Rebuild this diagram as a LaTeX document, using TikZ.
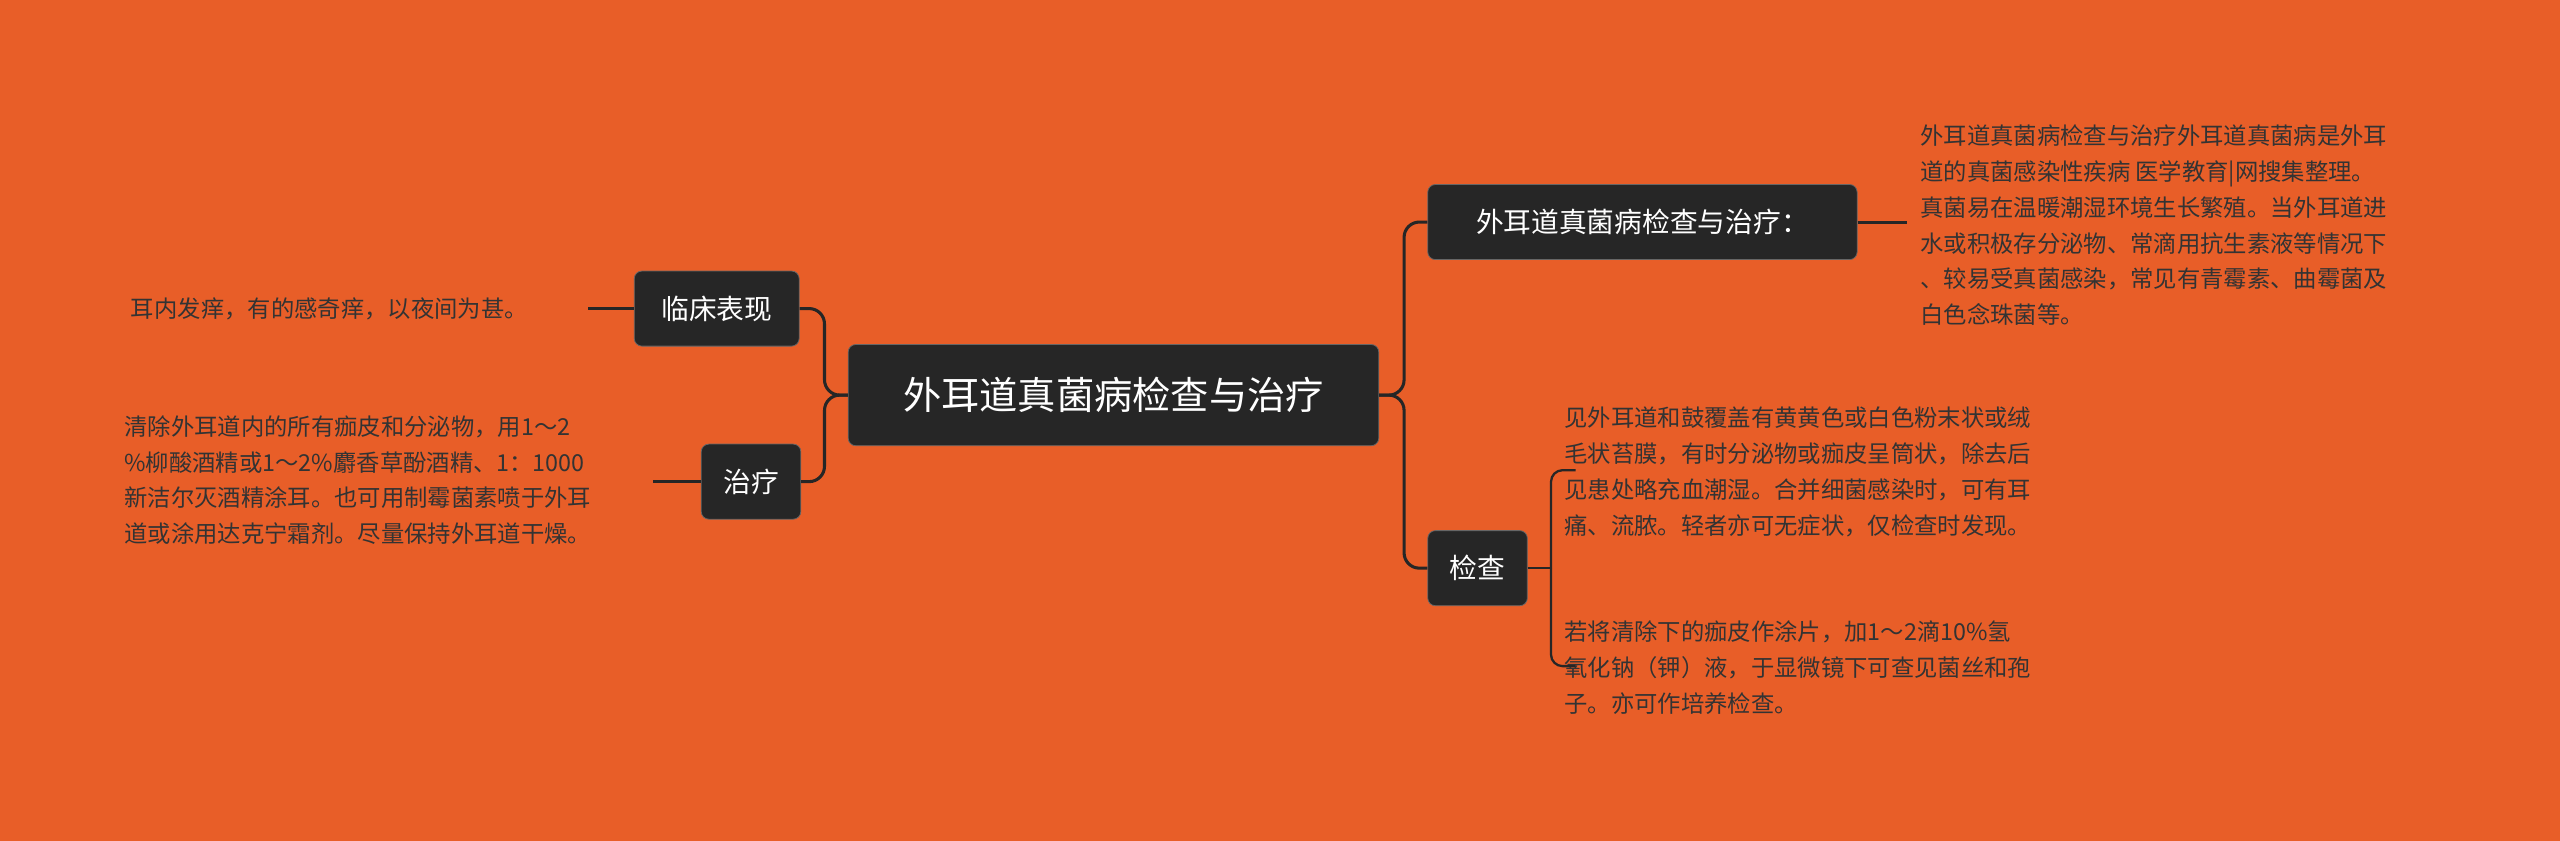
\documentclass[tikz,border=0pt]{standalone}
\usepackage{fontspec}
\setmainfont{Noto Sans CJK SC}
\begin{document}
\begin{tikzpicture}[x=0.3mm,y=-0.3mm,
 box/.style={fill=black!85,draw=black!60,rounded corners=4pt,text=white,inner sep=0pt,align=center},
 leaf/.style={text=black!80,align=left,inner sep=0pt,anchor=west,font=\fontsize{12.2}{18.7}\selectfont},
 conn/.style={draw=black!85,line width=1.6pt,rounded corners=8pt}]
\fill[fill={rgb,255:red,232;green,94;blue,40}] (0,0) rectangle (1568,515);
\useasboundingbox (0,0) rectangle (1568,515);
\node[box,minimum width=325*0.3mm,minimum height=62*0.3mm,font=\fontsize{20}{24}\selectfont] (c) at (682,242) {外耳道真菌病检查与治疗};
\node[box,minimum width=101*0.3mm,minimum height=46*0.3mm,font=\fontsize{14.5}{17}\selectfont] (l1) at (439,189) {临床表现};
\node[box,minimum width=61*0.3mm,minimum height=46*0.3mm,font=\fontsize{14.5}{17}\selectfont] (l2) at (460,295) {治疗};
\node[box,minimum width=263*0.3mm,minimum height=46*0.3mm,font=\fontsize{14.5}{17}\selectfont] (r1) at (1006,136) {外耳道真菌病检查与治疗：};
\node[box,minimum width=61*0.3mm,minimum height=46*0.3mm,font=\fontsize{14.5}{17}\selectfont] (r2) at (905,348) {检查};
\node[leaf] (t1) at (80,189) {耳内发痒，有的感奇痒，以夜间为甚。};
\node[leaf] (t2) at (76,294) {清除外耳道内的所有痂皮和分泌物，用1～2\\\%柳酸酒精或1～2\%麝香草酚酒精、1：1000\\新洁尔灭酒精涂耳。也可用制霉菌素喷于外耳\\道或涂用达克宁霜剂。尽量保持外耳道干燥。};
\node[leaf] (t3) at (1176,138) {外耳道真菌病检查与治疗外耳道真菌病是外耳\\道的真菌感染性疾病 医学教育|网搜集整理。\\真菌易在温暖潮湿环境生长繁殖。当外耳道进\\水或积极存分泌物、常滴用抗生素液等情况下\\、较易受真菌感染，常见有青霉素、曲霉菌及\\白色念珠菌等。};
\node[leaf] (t4) at (958,289) {见外耳道和鼓覆盖有黄黄色或白色粉末状或绒\\毛状苔膜，有时分泌物或痂皮呈筒状，除去后\\见患处略充血潮湿。合并细菌感染时，可有耳\\痛、流脓。轻者亦可无症状，仅检查时发现。};
\node[leaf] (t5) at (958,409) {若将清除下的痂皮作涂片，加1～2滴10\%氢\\氧化钠（钾）液，于显微镜下可查见菌丝和孢\\子。亦可作培养检查。};
\coordinate (jl) at (505,242);
\coordinate (jr) at (860,242);
\coordinate (jk) at (950,348);
\draw[conn] (c.west) -- (jl) |- (l1.east);
\draw[conn] (c.west) -- (jl) |- (l2.east);
\draw[conn] (c.east) -- (jr) |- (r1.west);
\draw[conn] (c.east) -- (jr) |- (r2.west);
\draw[conn] (l1.west) -- (360,189);
\draw[conn] (l2.west) -- (400,295);
\draw[conn] (r1.east) -- (1168,136);
\draw[conn,line width=1.2pt] (r2.east) -- (jk);
\draw[conn,line width=1.2pt,rounded corners=6pt] (jk) |- (965,288);
\draw[conn,line width=1.2pt,rounded corners=6pt] (jk) |- (965,408);
\end{tikzpicture}
\end{document}
